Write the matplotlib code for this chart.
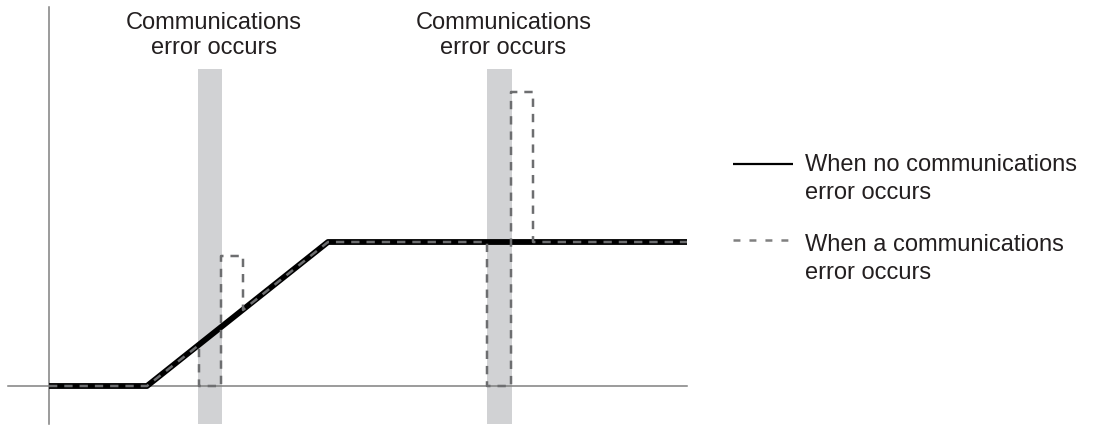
import matplotlib
matplotlib.use("Agg")
import matplotlib.pyplot as plt

plt.rcParams['font.family'] = ['Liberation Sans', 'DejaVu Sans']
plt.rcParams['lines.scale_dashes'] = False

# normal output (no error): time / value
t_normal = [0, 9.8, 27.9, 63.8]
v_normal = [0, 0, 14.4, 14.4]

# output when communications errors occur
t_error = [0, 9.8, 15.0, 15.0, 17.2, 17.2, 19.4, 19.4, 27.9, 43.8, 43.8, 46.2, 46.2, 48.4, 48.4, 63.8]
v_error = [0, 0, 4.1, 0, 0, 13.0, 13.0, 7.6, 14.4, 14.4, 0, 0, 29.4, 29.4, 14.4, 14.4]

# communications error windows (start, end)
error_windows = [(14.9, 17.3), (43.8, 46.3)]
shade_bottom, shade_top = -3.8, 31.7

label_text = ["Communications", "error occurs"]
legend_labels = [["When no communications", "error occurs"],
                 ["When a communications", "error occurs"]]

text_color = '#231f20'
fs = 17

fig = plt.figure(figsize=(10.93, 4.27), dpi=100)
ax = fig.add_axes([0, 0, 1, 1])
ax.set_xlim(-4.9, 104.4)
ax.set_ylim(-4.0, 38.7)
ax.axis('off')

# shaded error windows
for t0, t1 in error_windows:
    ax.fill_between([t0, t1], shade_bottom, shade_top, color='#d1d2d4', lw=0, zorder=1)
    xc = (t0 + t1) / 2 + 0.4
    ax.text(xc, 35.8, label_text[0], ha='center', va='baseline', fontsize=fs, color=text_color)
    ax.text(xc, 33.3, label_text[1], ha='center', va='baseline', fontsize=fs, color=text_color)

# axes lines
ax.plot([-4.1, 63.8], [0, 0], color='#808080', lw=1.1, zorder=2)
ax.plot([0, 0], [-3.8, 37.9], color='#808080', lw=1.1, zorder=2)

# curves
ax.plot(t_normal, v_normal, color='black', lw=4.2, zorder=3, solid_capstyle='butt')
ax.plot(t_error, v_error, color='#6d6e70', lw=1.8, dashes=(6, 5), zorder=4)

# legend drawn by hand
ax.plot([68.4, 74.4], [22.2, 22.2], color='black', lw=1.6, solid_capstyle='butt')
ax.plot([68.4, 73.9], [14.6, 14.6], color='#808080', lw=1.8, dashes=(5, 6.5), dash_capstyle='butt')
for (l1, l2), yb in zip(legend_labels, [21.6, 13.6]):
    ax.text(75.6, yb, l1, ha='left', va='baseline', fontsize=fs, color=text_color)
    ax.text(75.6, yb - 2.8, l2, ha='left', va='baseline', fontsize=fs, color=text_color)

fig.savefig('out.png', dpi=100)
